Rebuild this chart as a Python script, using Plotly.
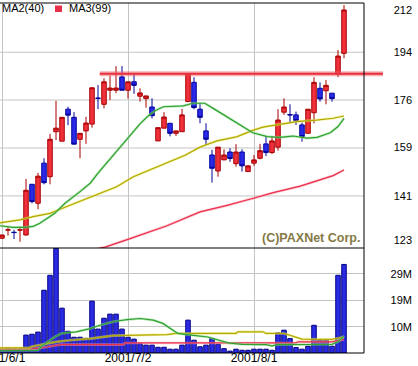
import plotly.graph_objects as go

# ---------------- data ----------------
IDX = list(range(58))
DATE_TICK_IDX = [0, 21, 42]
DATE_TICK_TEXT = ["2001/6/1", "2001/7/2", "2001/8/1"]

OPEN = [125.4, 128.4, 127.6, 128.4, 126.6, 145.3, 138.3, 153.1, 148.1, 164.7,
        161.2, 173.0, 170.0, 161.9, 165.0, 167.5, 177.1, 174.8, 180.0, 180.0,
        184.9, 180.0, 183.1, 177.8, 176.9, 173.8, 161.3, 166.0, 167.8, 164.1,
        164.7, 175.8, 182.9, 173.0, 165.0, 156.1, 150.2, 154.3, 157.2, 152.9,
        157.2, 150.0, 153.1, 154.9, 160.2, 157.0, 159.0, 171.9, 171.0, 170.9,
        167.2, 164.1, 171.7, 180.7, 179.8, 178.9, 186.0, 193.6]
HIGH = [126.7, 129.7, 128.5, 129.7, 147.3, 145.4, 149.5, 154.9, 163.9, 176.1,
        170.0, 173.9, 171.9, 164.1, 170.2, 181.0, 181.9, 184.4, 185.4, 188.9,
        188.9, 183.1, 185.9, 180.7, 177.9, 177.0, 166.2, 171.9, 167.8, 165.0,
        173.1, 186.2, 184.8, 175.4, 167.8, 158.0, 159.0, 158.2, 158.6, 160.1,
        158.2, 152.1, 156.1, 160.2, 163.1, 163.1, 173.0, 177.0, 174.8, 172.1,
        168.0, 173.0, 184.8, 182.9, 183.8, 178.9, 194.8, 211.4]
LOW = [125.2, 126.4, 125.1, 124.1, 126.4, 138.3, 136.1, 145.3, 145.3, 161.6,
       161.2, 167.1, 160.1, 154.9, 160.2, 166.2, 173.0, 173.3, 176.4, 178.9,
       180.0, 176.9, 178.7, 175.8, 173.6, 169.6, 161.3, 166.0, 163.0, 163.1,
       164.7, 175.8, 173.0, 167.8, 159.8, 145.9, 148.1, 154.3, 153.6, 151.8,
       150.0, 150.0, 152.1, 154.5, 155.7, 156.5, 157.7, 170.9, 167.8, 167.2,
       161.0, 164.1, 167.8, 175.8, 174.8, 175.8, 184.8, 191.8]
CLOSE = [126.6, 128.5, 127.5, 128.5, 143.1, 138.9, 148.3, 145.9, 161.9, 166.0,
         170.0, 170.8, 160.1, 164.1, 167.9, 180.9, 177.0, 183.1, 180.8, 180.8,
         180.0, 183.1, 181.8, 179.0, 177.9, 170.6, 166.2, 170.1, 164.1, 165.0,
         170.9, 186.0, 173.6, 170.0, 161.9, 151.2, 159.0, 156.1, 154.8, 157.2,
         152.1, 152.1, 154.3, 157.7, 157.0, 161.3, 169.0, 173.8, 170.9, 168.8,
         162.9, 173.0, 182.9, 176.8, 181.8, 176.9, 192.6, 209.6]
VOLUME_M = [1.5, 1.8, 1.6, 1.7, 6.6, 6.9, 7.7, 23.1, 28.6, 38.5,
            16.5, 8.0, 5.8, 5.8, 5.4, 19.1, 8.8, 12.8, 14.3, 14.3,
            8.8, 5.8, 5.1, 3.4, 2.9, 2.9, 2.1, 2.1, 1.4, 1.4,
            2.9, 12.1, 4.7, 2.3, 2.9, 5.3, 3.2, 1.6, 0.7, 1.4,
            1.0, 1.0, 1.4, 1.4, 1.4, 1.0, 7.4, 8.4, 5.3, 2.0,
            1.4, 2.5, 10.2, 4.7, 4.7, 2.5, 28.6, 32.6]

# price moving averages (index position, value)
MA1_X = [-0.33, 1.8, 3.8, 5.2, 6.3, 7.5, 8.8, 9.7, 10.5, 13.0, 14.7, 16.0, 18.0,
         20.8, 23.0, 24.3, 25.5, 26.9, 30.2, 31.8, 33.8, 35.2, 37.5, 39.7, 41.8,
         44.2, 46.3, 48.5, 50.8, 52.5, 54.7, 56.0, 57.0]
MA1_Y = [130.0, 129.4, 129.4, 129.8, 130.9, 132.6, 134.6, 136.6, 138.3, 142.6,
         145.7, 149.4, 154.6, 161.7, 167.6, 170.4, 172.4, 173.9, 174.2, 175.2,
         175.2, 173.3, 170.2, 167.2, 164.3, 162.9, 162.6, 163.1, 162.3, 162.6,
         164.3, 166.6, 169.6]
MA2_X = [-0.33, 3.0, 5.2, 8.0, 10.8, 13.6, 16.3, 19.1, 21.9, 24.7, 27.4, 30.5,
         33.0, 35.8, 39.1, 41.9, 43.5, 45.8, 49.1, 52.4, 55.2, 57.0]
MA2_Y = [131.1, 132.2, 133.4, 134.6, 137.1, 139.5, 142.0, 144.4, 148.1, 150.6,
         153.1, 156.0, 159.0, 161.3, 162.8, 165.3, 166.4, 167.2, 168.4, 169.0,
         169.65, 170.5]
MA3_X = [12.0, 17.3, 21.0, 24.7, 27.5, 33.0, 37.5, 41.9, 45.2, 49.7, 51.8, 55.2, 57.0]
MA3_Y = [119.6, 122.2, 125.0, 127.7, 130.0, 135.1, 137.5, 140.15, 142.2, 144.6,
         146.0, 148.5, 150.6]

# volume moving averages (index position, millions)
VMA1_X = [-0.33, 6.0, 6.8, 8.8, 9.9, 12.4, 14.7, 16.3, 18.5, 20.8, 23.0, 25.2,
          26.8, 28.5, 29.3, 31.5, 34.3, 37.7, 40.0, 44.0, 45.0, 46.0, 55.0, 56.0, 57.0]
VMA1_Y = [0.9, 1.0, 2.9, 5.9, 7.2, 7.8, 9.0, 10.2, 11.5, 12.3, 12.7, 12.1,
          10.9, 8.4, 7.2, 6.6, 5.9, 3.7, 3.2, 3.1, 2.6, 3.1, 3.2, 4.1, 6.3]
VMA2_X = [-0.33, 4.5, 5.0, 6.8, 9.0, 11.3, 14.7, 18.5, 27.5, 29.0, 39.0, 39.3,
          43.5, 44.0, 47.0, 50.0, 55.0, 57.0]
VMA2_Y = [1.9, 1.9, 2.4, 3.2, 4.1, 4.7, 5.3, 6.4, 6.8, 7.2, 7.2, 7.8,
          7.8, 7.2, 7.2, 5.1, 5.0, 5.9]
VMA3_X = [-0.33, 4.7, 7.5, 9.7, 20.2, 20.5, 49.0, 49.3, 55.0, 57.0]
VMA3_Y = [1.3, 1.4, 2.2, 3.1, 3.1, 3.7, 3.7, 4.1, 4.1, 5.0]

RESISTANCE_LEVEL = 186.1
RESISTANCE_START = 16.3

PRICE_LABEL_VALS = [209.6, 194.0, 176.4, 158.9, 141.0, 124.8]
PRICE_LABEL_TEXT = ["212", "194", "176", "159", "141", "123"]
PRICE_GRID_VALS = [194.0, 176.4, 158.7, 141.0]
VOL_TICK_VALS = [9.7, 19.4, 29.1]
VOL_TICK_TEXT = ["10M", "19M", "29M"]

# ---------------- layout constants ----------------
W, H = 418, 366
X_RANGE = [-0.333, 60.333]
PRICE_RANGE = [121.8, 212.17]
VOL_RANGE = [0, 38.65]
PLOT_RIGHT = 364
PRICE_TOP, SPLIT, VOL_BOTTOM = 3, 248, 353
X_DOMAIN = [0, PLOT_RIGHT / W]
PRICE_DOMAIN = [(H - SPLIT) / H, (H - PRICE_TOP) / H]
VOL_DOMAIN = [(H - VOL_BOTTOM) / H, (H - SPLIT) / H]
LABEL_POS = 412 / W
FONT = "Liberation Sans, Arial, sans-serif"
GRID = "#c4c4c4"

fig = go.Figure()


def add_line(xs, ys, color, halo, xa, ya):
    fig.add_trace(go.Scatter(x=xs, y=ys, mode="lines", line=dict(color=halo, width=2.6),
                             xaxis=xa, yaxis=ya, showlegend=False, hoverinfo="skip"))
    fig.add_trace(go.Scatter(x=xs, y=ys, mode="lines", line=dict(color=color, width=1.2),
                             xaxis=xa, yaxis=ya, showlegend=False, hoverinfo="skip"))


# price panel
add_line(MA3_X, MA3_Y, "#e8304c", "rgba(255,150,165,0.55)", "x", "y")
add_line(MA2_X, MA2_Y, "#b0a800", "rgba(235,230,90,0.55)", "x", "y")
add_line(MA1_X, MA1_Y, "#30a030", "rgba(140,220,140,0.55)", "x", "y")

fig.add_trace(go.Candlestick(
    x=IDX, open=OPEN, high=HIGH, low=LOW, close=CLOSE,
    increasing=dict(line=dict(color="#a80000", width=1), fillcolor="#f0303c"),
    decreasing=dict(line=dict(color="#00009a", width=1), fillcolor="#2a2ae8"),
    whiskerwidth=0, xaxis="x", yaxis="y", showlegend=False, hoverinfo="skip"))

# volume panel
fig.add_trace(go.Bar(x=IDX, y=VOLUME_M, width=0.75,
                     marker=dict(color="#2b2be6", line=dict(color="#000080", width=1)),
                     xaxis="x2", yaxis="y2", showlegend=False, hoverinfo="skip"))
add_line(VMA3_X, VMA3_Y, "#e8304c", "rgba(255,150,165,0.55)", "x2", "y2")
add_line(VMA2_X, VMA2_Y, "#b0a800", "rgba(235,230,90,0.55)", "x2", "y2")
add_line(VMA1_X, VMA1_Y, "#30a030", "rgba(140,220,140,0.55)", "x2", "y2")

shapes = []
for v in PRICE_GRID_VALS:
    shapes.append(dict(type="line", xref="x domain", yref="y", x0=0, x1=1, y0=v, y1=v,
                       line=dict(color=GRID, width=1), layer="below"))

# resistance line (extends past the plot border)
res_x0 = (RESISTANCE_START - X_RANGE[0]) / (X_RANGE[1] - X_RANGE[0])
res_x1 = 383 / PLOT_RIGHT
shapes.append(dict(type="line", xref="x domain", yref="y", x0=res_x0, x1=res_x1,
                   y0=RESISTANCE_LEVEL, y1=RESISTANCE_LEVEL,
                   line=dict(color="rgba(240,100,110,0.5)", width=5), layer="above"))
shapes.append(dict(type="line", xref="x domain", yref="y", x0=res_x0, x1=res_x1,
                   y0=RESISTANCE_LEVEL, y1=RESISTANCE_LEVEL,
                   line=dict(color="#e8303c", width=2), layer="above"))

# borders
border = dict(color="black", width=1)
shapes += [
    dict(type="line", xref="x domain", yref="y domain", x0=0, x1=1, y0=1, y1=1, line=border),
    dict(type="line", xref="x domain", yref="y domain", x0=1, x1=1, y0=0, y1=1, line=border),
    dict(type="line", xref="x domain", yref="y domain", x0=0, x1=1, y0=0, y1=0, line=border),
    dict(type="line", xref="x2 domain", yref="y2 domain", x0=1, x1=1, y0=0, y1=1, line=border),
    dict(type="line", xref="x2 domain", yref="y2 domain", x0=0, x1=1, y0=0, y1=0, line=border),
]
# legend square
shapes.append(dict(type="rect", xref="paper", yref="paper", x0=55 / W, x1=62 / W,
                   y0=(H - 12) / H, y1=(H - 5.5) / H, fillcolor="#e8304a", line=dict(width=0)))

annotations = [
    dict(text="MA2(40)", xref="paper", yref="paper", x=0, y=(H - 8.5) / H,
         xanchor="left", yanchor="middle", showarrow=False,
         font=dict(family=FONT, size=11, color="black")),
    dict(text="MA3(99)", xref="paper", yref="paper", x=67 / W, y=(H - 8.5) / H,
         xanchor="left", yanchor="middle", showarrow=False,
         font=dict(family=FONT, size=11, color="black")),
    dict(text="<b>(C)PAXNet Corp.</b>", xref="paper", yref="paper", x=362 / W, y=(H - 238) / H,
         xanchor="right", yanchor="middle", showarrow=False,
         font=dict(family=FONT, size=12.5, color="#857a45")),
]

fig.update_layout(
    width=W, height=H, autosize=False,
    margin=dict(l=0, r=0, t=0, b=0, pad=0),
    paper_bgcolor="white", plot_bgcolor="white",
    font=dict(family=FONT, size=11, color="black"),
    showlegend=False, boxgap=0.25, boxgroupgap=0, bargap=0,
    shapes=shapes, annotations=annotations,
    xaxis=dict(domain=X_DOMAIN, range=X_RANGE, anchor="y", showgrid=True, gridcolor=GRID,
               gridwidth=1, tickmode="array", tickvals=DATE_TICK_IDX, showticklabels=False,
               ticks="", zeroline=False, showline=False, rangeslider=dict(visible=False),
               fixedrange=True),
    xaxis2=dict(domain=X_DOMAIN, range=X_RANGE, anchor="y2", showgrid=True, gridcolor=GRID,
                gridwidth=1, tickmode="array", tickvals=DATE_TICK_IDX, ticktext=DATE_TICK_TEXT,
                ticks="", zeroline=False, showline=False, automargin=False,
                ticklabelstandoff=-4, ticklabeloverflow="allow",
                tickfont=dict(family=FONT, size=12, color="black"), fixedrange=True),
    yaxis=dict(domain=PRICE_DOMAIN, range=PRICE_RANGE, anchor="free", position=LABEL_POS,
               side="left", showgrid=False, zeroline=False, showline=False, ticks="",
               tickmode="array", tickvals=PRICE_LABEL_VALS, ticktext=PRICE_LABEL_TEXT,
               automargin=False, tickfont=dict(family=FONT, size=11, color="black"),
               fixedrange=True),
    yaxis2=dict(domain=VOL_DOMAIN, range=VOL_RANGE, anchor="free", position=LABEL_POS,
                side="left", showgrid=True, gridcolor=GRID, gridwidth=1, zeroline=False,
                showline=False, ticks="", tickmode="array", tickvals=VOL_TICK_VALS,
                ticktext=VOL_TICK_TEXT, automargin=False,
                tickfont=dict(family=FONT, size=11, color="black"), fixedrange=True),
)

fig.write_html("out.html", config={"displayModeBar": False, "staticPlot": True},
               post_script="document.body.style.margin='0';document.body.style.overflow='hidden';")
